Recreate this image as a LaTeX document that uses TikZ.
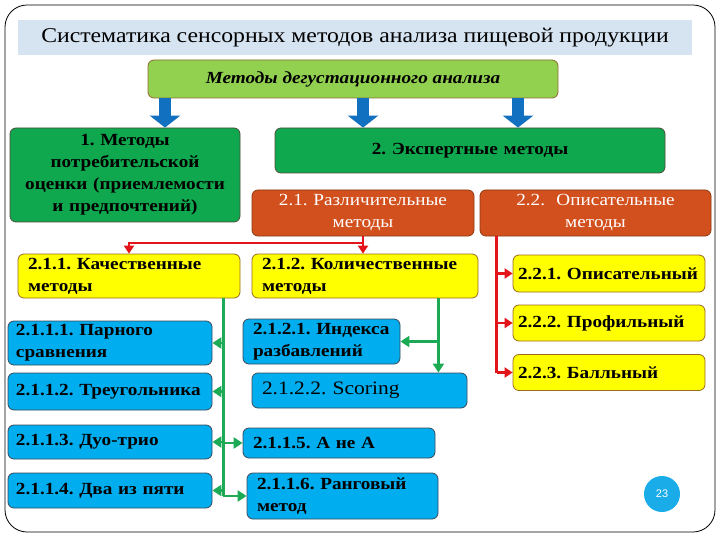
\documentclass[tikz,border=0pt]{standalone}
\usepackage{fontspec}
\setmainfont{Liberation Serif}[FakeStretch=1.13]
\newfontfamily\numfont{Liberation Sans}
\usetikzlibrary{arrows.meta}
\frenchspacing

\definecolor{bandfill}{HTML}{D6E3F0}
\definecolor{topfill}{HTML}{92D050}
\definecolor{topedge}{HTML}{8C6D2E}
\definecolor{grnfill}{HTML}{10A84E}
\definecolor{grnedge}{HTML}{4D4D3A}
\definecolor{orgfill}{HTML}{D2501E}
\definecolor{orgedge}{HTML}{8B3A10}
\definecolor{yelfill}{HTML}{FFFF00}
\definecolor{yeledge}{HTML}{9C6A1E}
\definecolor{blufill}{HTML}{00ADEF}
\definecolor{bluedge}{HTML}{3A4A5A}
\definecolor{arrblue}{HTML}{1170C0}
\definecolor{linered}{HTML}{E3151A}
\definecolor{linegreen}{HTML}{1DAA55}
\definecolor{pagecirc}{HTML}{1AACE8}

\tikzset{
  box/.style={rounded corners=6pt, line width=0.8pt, inner xsep=10pt, inner ysep=0pt},
  grnbox/.style={box, draw=grnedge, fill=grnfill, align=center,
    font=\fontsize{17}{22}\selectfont\bfseries},
  orgbox/.style={box, draw=orgedge, fill=orgfill, align=center, text=white,
    font=\fontsize{17}{22}\selectfont},
  yelbox/.style={box, draw=yeledge, fill=yelfill, align=left,
    font=\fontsize{17}{22}\selectfont\bfseries},
  blubox/.style={box, draw=bluedge, fill=blufill, align=left,
    font=\fontsize{17}{22}\selectfont\bfseries},
  bigarrow/.style={draw=arrblue, line width=12pt, -{Triangle[width=30pt,length=12pt]}},
  redline/.style={draw=linered, line width=2.8pt},
  redarr/.style={redline, -{Triangle[width=10pt,length=8pt]}},
  grnline/.style={draw=linegreen, line width=2.8pt},
  grnarr/.style={grnline, -{Triangle[width=11pt,length=9pt]}}
}

\begin{document}
\begin{tikzpicture}[x=1pt,y=-1pt]
  \useasboundingbox (0,0) rectangle (720,540);

  % Frame
  \draw[line width=0.8pt, rounded corners=22pt] (5,5) rectangle (715,532);

  % Title
  \node[fill=bandfill, minimum width=674pt, minimum height=35pt, inner sep=0pt,
        font=\fontsize{21}{24}\selectfont] (title) at (355,37.5)
        {Систематика сенсорных методов анализа пищевой продукции};

  % Top level
  \node[box, draw=topedge, fill=topfill, minimum width=410pt, minimum height=38pt,
        font=\fontsize{17}{20}\selectfont\bfseries\itshape] (top) at (353,79)
        {Методы дегустационного анализа};

  % Level 1
  \node[grnbox, text width=210pt, minimum height=94pt] (cons) at (125,175)
        {1. Методы\\потребительской\\оценки (приемлемости\\и предпочтений)};
  \node[grnbox, text width=370pt, minimum height=45pt] (expert) at (470,150.5)
        {2. Экспертные методы};

  % Level 2
  \node[orgbox, text width=202pt, minimum height=46pt] (dist) at (363,213)
        {2.1. Различительные\\методы};
  \node[orgbox, text width=211pt, minimum height=46pt] (descr) at (595.5,213)
        {2.2.~ Описательные\\методы};

  % Level 3
  \node[yelbox, text width=202pt, minimum height=44pt] (qual) at (129,276)
        {2.1.1. Качественные\\методы};
  \node[yelbox, text width=206pt, minimum height=44pt] (quant) at (365,276)
        {2.1.2. Количественные\\методы};
  \node[yelbox, inner xsep=5pt, text width=182pt, minimum height=37pt] (opis) at (609,273.5)
        {2.2.1. Описательный};
  \node[yelbox, inner xsep=5pt, text width=182pt, minimum height=36pt] (prof) at (609,323)
        {2.2.2. Профильный};
  \node[yelbox, inner xsep=5pt, text width=182pt, minimum height=36pt] (ball) at (609,372.5)
        {2.2.3. Балльный};

  % Level 4
  \node[blubox, inner xsep=8pt, text width=188pt, minimum height=44pt] (pair) at (110,343)
        {2.1.1.1. Парного\\сравнения};
  \node[blubox, inner xsep=8pt, text width=188pt, minimum height=37pt] (tri) at (110,391.5)
        {2.1.1.2. Треугольника};
  \node[blubox, inner xsep=8pt, text width=188pt, minimum height=34pt] (duo) at (110,442)
        {2.1.1.3. Дуо-трио};
  \node[blubox, inner xsep=8pt, text width=188pt, minimum height=35pt] (five) at (110,490.5)
        {2.1.1.4. Два из пяти};
  \node[blubox, text width=137pt, minimum height=45pt] (dil) at (321.5,341.5)
        {2.1.2.1. Индекса\\разбавлений};
  \node[blubox, text width=195pt, minimum height=35pt,
        font=\fontsize{19}{22}\selectfont] (score) at (359.5,390.5)
        {2.1.2.2. Scoring};
  \node[blubox, text width=172pt, minimum height=30pt] (anota) at (339,443)
        {2.1.1.5. А не А};
  \node[blubox, text width=171pt, minimum height=46pt] (rank) at (342.5,496)
        {2.1.1.6. Ранговый\\метод};

  % Blue arrows
  \coordinate (a1) at (165,0);
  \coordinate (a2) at (363,0);
  \coordinate (a3) at (518,0);
  \draw[bigarrow] (top.south -| a1) -- (cons.north -| a1);
  \draw[bigarrow] (top.south -| a2) -- (expert.north -| a2);
  \draw[bigarrow] (top.south -| a3) -- (expert.north -| a3);

  % Red connectors
  \coordinate (rj) at (dist.south |- 0,243);
  \draw[redarr] (dist.south) -- (dist.south |- quant.north);
  \draw[redarr] (rj) -| (qual.north);
  \coordinate (r2) at ([xshift=17pt]descr.south west);
  \draw[redline] (r2) -- (r2 |- ball.west);
  \draw[redarr] (r2 |- opis.west) -- (opis.west);
  \draw[redarr] (r2 |- prof.west) -- (prof.west);
  \draw[redarr] (r2 |- ball.west) -- (ball.west);

  % Green connectors
  \coordinate (g1) at ([xshift=-17pt]qual.south east);
  \draw[grnline] (g1) -- (g1 |- rank.west);
  \draw[grnarr] (g1 |- pair.east) -- (pair.east);
  \draw[grnarr] (g1 |- tri.east) -- (tri.east);
  \draw[grnarr] (g1 |- duo.east) -- (duo.east);
  \draw[grnarr] (g1 |- five.east) -- (five.east);
  \draw[grnarr] (g1 |- anota.west) -- (anota.west);
  \draw[grnarr] (g1 |- rank.west) -- (rank.west);
  \coordinate (g2) at ([xshift=-40pt]quant.south east);
  \draw[grnarr] (g2) -- (g2 |- score.north);
  \draw[grnarr] (g2 |- dil.east) -- (dil.east);

  % Page number
  \node[circle, fill=pagecirc, minimum size=36pt, inner sep=0pt, text=white,
        font=\numfont\fontsize{11}{12}\selectfont] (page) at (662,494) {23};
\end{tikzpicture}
\end{document}
